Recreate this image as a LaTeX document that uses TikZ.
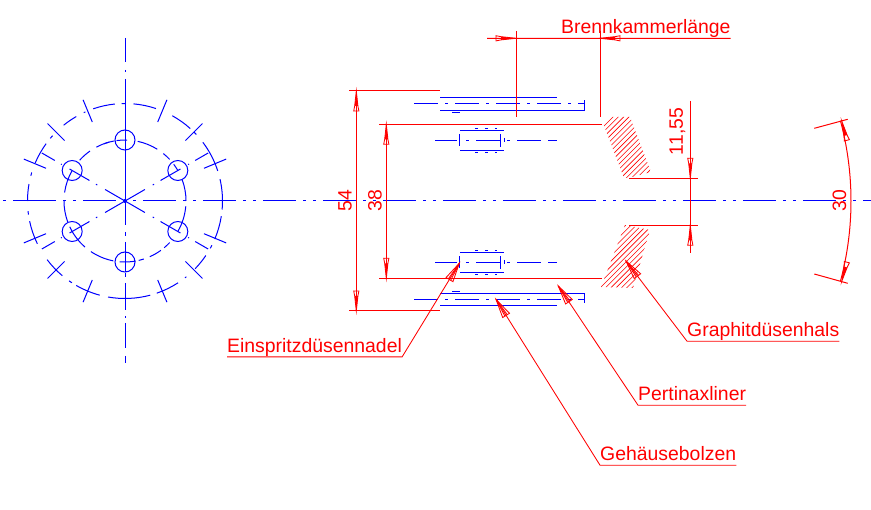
\documentclass[tikz,border=0pt]{standalone}
\usepackage{fontspec}
\setmainfont{Liberation Sans}
\usepackage{tikz}

\tikzset{
  blueline/.style={draw=blue, line width=1pt},
  redline/.style={draw=red, line width=1pt},
  thinred/.style={draw=red, line width=.85pt},
  hatchline/.style={draw=red, line width=.6pt},
  axisline/.style={blueline, dash pattern=on 33pt off 7pt on 3pt off 7pt on 3pt off 7pt, dash phase=40pt},
  boltaxis/.style={blueline, dash pattern=on 24pt off 7pt on 3pt off 7pt},
  leadertext/.style={text=red, inner sep=0pt, anchor=base west, text depth=4.5pt, font=\fontsize{19.4}{20}\selectfont},
  dimtext/.style={text=red, inner sep=0pt, rotate=90, font=\fontsize{19.4}{20}\selectfont},
  dimtip/.pic={
    \fill[red] (1,0) -- (15,1.6) -- (15,-1.6) -- cycle;
    \draw[thinred] (0,0) -- (15,1.6) -- (20,2.6) -- (20,-2.6) -- (15,-1.6) -- cycle;
  },
  leadertip/.pic={
    \draw[thinred] (0,0) -- (19,4) -- (19,-4) -- cycle;
    \draw[thinred] (0,0) -- (19,1.4);
    \draw[thinred] (0,0) -- (19,-1.4);
    \fill[red] (0,0) -- (7,1) -- (7,-1) -- cycle;
  }
}

\begin{document}
\begin{tikzpicture}[x=1pt, y=-1pt]

\useasboundingbox (0,0) rectangle (871,510);
\fill[white] (0,0) rectangle (871,510);

\coordinate (hub) at (125,201);

\draw[axisline] (3,201) -- (871,201);
\draw[blueline] (13,201) -- (23,201);

\foreach \ya/\yb in {38/62,70/72,79/225,232/236,242/272,273/277,283/310,316/318,323/348,356/363}
  \draw[blueline] (125,\ya) -- (125,\yb);

\foreach \a/\b in {-85/-71.5,-61/-48,-45/-43,-37/-18,-13/5,9/23,27/29,34/44,51/52,57/71,75/100,105/120,123/125,130/143,154/168,172/174,180/190,195/197,203/216,220/222,231/240,245/246,251/264,268/270}
  \draw[blueline] ([shift={(\a:97.5)}]hub) arc (\a:\b:97.5);

\foreach \a/\b in {-78/-58,-51/-43,-37/-30,-20/0,5/30,43/50,54/66,72/77,80/95,101/124,131/155,160/180,188/210,222/235,242/255,250/260,262/272}
  \draw[blueline] ([shift={(\a:61)}]hub) arc (\a:\b:61);

\foreach \a in {22.5,45,67.5,112.5,135,157.5,202.5,225,247.5,292.5,315,337.5}
  \draw[blueline] ([shift={(\a:85.5)}]hub) -- ([shift={(\a:109.5)}]hub);

\foreach \a in {30,150,210,330}
  \foreach \r/\s in {0/23,32/33.5,41/64,73/74,81/96}
    \draw[blueline] ([shift={(\a:\r)}]hub) -- ([shift={(\a:\s)}]hub);

\foreach \a in {30,90,150,210,270,330}
  \node[circle, blueline, minimum size=20pt, inner sep=0pt] (hole\a) at ([shift={(\a:61)}]hub) {};

\fill[blue] (hub) circle (2);

\draw[boltaxis] (414,103.3) -- (584,103.3);
\draw[blueline] (440,97.3) -- (556.7,97.3);
\draw[blueline] (440,110.3) -- (584.3,110.3) -- (584.3,100);
\draw[blueline] (452,112.3) -- (460,112.3);

\draw[boltaxis] (414,299.3) -- (584,299.3);
\draw[blueline] (440,305.3) -- (556.7,305.3);
\draw[blueline] (440,293.3) -- (584.3,293.3) -- (584.3,302.7);
\draw[blueline] (452,291.3) -- (460,291.3);

\foreach \dy in {0,122}{
  \draw[blueline] (460,130.3+\dy) -- (503.5,130.3+\dy);
  \draw[blueline] (460,150.3+\dy) -- (503.5,150.3+\dy);
  \draw[blueline] (459.3,134.3+\dy) -- (459.3,146.3+\dy);
  \draw[blueline] (500.3,134.3+\dy) -- (500.3,147+\dy);
  \draw[blueline] (504.3,138+\dy) -- (504.3,142.5+\dy);
  \foreach \xa/\xb in {435/457,466/469,476/500,507/510,517/541,548/557}
    \draw[blueline] (\xa,140.3+\dy) -- (\xb,140.3+\dy);
  \foreach \xa/\xb in {475/478,485/488,495/496.5}{
    \draw[blueline] (\xa,128.3+\dy) -- (\xb,128.3+\dy);
    \draw[blueline] (\xa,152.5+\dy) -- (\xb,152.5+\dy);
  }
}

\begin{scope}
\clip (603,123) -- (610,117) -- (630,117) -- (651,172) -- (628,178) -- (624,178) -- cycle;
\foreach \h in {0,1,...,24}
  \draw[hatchline] (540+5.3*\h,190) -- (620+5.3*\h,110);
\end{scope}

\begin{scope}
\clip (625,225) -- (650,230) -- (633,288) -- (601,287) -- cycle;
\foreach \h in {0,1,...,26}
  \draw[hatchline] (540+5.3*\h,295) -- (620+5.3*\h,215);
\end{scope}

\draw[redline] (349,91) -- (440,91);
\draw[redline] (349,311) -- (440,311);
\draw[redline] (356.3,91) -- (356.3,311);
\pic[rotate=-90] at (356.3,91) {dimtip};
\pic[rotate=90] at (356.3,311) {dimtip};
\node[dimtext] (dimA) at (345,201) {54};

\draw[redline] (379,124.3) -- (601.7,124.3);
\draw[redline] (379,278.3) -- (601.7,278.3);
\draw[redline] (386.3,124.3) -- (386.3,278.3);
\pic[rotate=-90] at (386.3,124.3) {dimtip};
\pic[rotate=90] at (386.3,278.3) {dimtip};
\node[dimtext] (dimB) at (375,201) {38};

\draw[redline] (629.3,178.3) -- (697.7,178.3);
\draw[redline] (629.3,225.3) -- (697.7,225.3);
\draw[redline] (690.3,101) -- (690.3,253.3);
\pic[rotate=90] at (690.3,178.3) {dimtip};
\pic[rotate=-90] at (690.3,225.3) {dimtip};
\node[dimtext] (dimC) at (677.5,131.5) {11,55};

\coordinate (arcmid) at (541,201);
\draw[redline] ([shift={(-15:310)}]arcmid) arc (-15:15:310);
\draw[redline] (814.3,128.3) -- (847.7,119.3);
\draw[redline] (814.3,274) -- (847.7,283.3);
\pic[rotate=-75] at (841.7,121) {dimtip};
\pic[rotate=75] at (841.7,281.5) {dimtip};
\node[dimtext] (dimD) at (839.5,201) {30};

\node[leadertext] (labBrenn) at (561,33.8) {Brennkammerlänge};
\draw[redline] (487,38.3) -- (labBrenn.south east);
\draw[redline] (516,31) -- (516,117);
\draw[redline] (600,31) -- (600,117);
\pic[rotate=180] at (516,38.3) {dimtip};
\pic[rotate=0] at (600,38.3) {dimtip};

\node[leadertext] (labNadel) at (227,352.2) {Einspritzdüsennadel};
\coordinate (tipNadel) at (459.3,263.3);
\draw[thinred] (labNadel.south west) -- (labNadel.south east) -- (tipNadel);
\pic[rotate=-121] at (tipNadel) {leadertip};

\node[leadertext] (labHals) at (687,336.5) {Graphitdüsenhals};
\coordinate (tipHals) at (626,261);
\draw[thinred] (labHals.south east) -- (labHals.south west) -- (tipHals);
\pic[rotate=-53] at (tipHals) {leadertip};

\node[leadertext] (labLiner) at (638,400.5) {Pertinaxliner};
\coordinate (tipLiner) at (558.3,286);
\draw[thinred] (labLiner.south east) -- (labLiner.south west) -- (tipLiner);
\pic[rotate=-56] at (tipLiner) {leadertip};

\node[leadertext] (labBolzen) at (600,460.5) {Gehäusebolzen};
\coordinate (tipBolzen) at (496,299.3);
\draw[thinred] (labBolzen.south east) -- (labBolzen.south west) -- (tipBolzen);
\pic[rotate=-58] at (tipBolzen) {leadertip};

\end{tikzpicture}
\end{document}
